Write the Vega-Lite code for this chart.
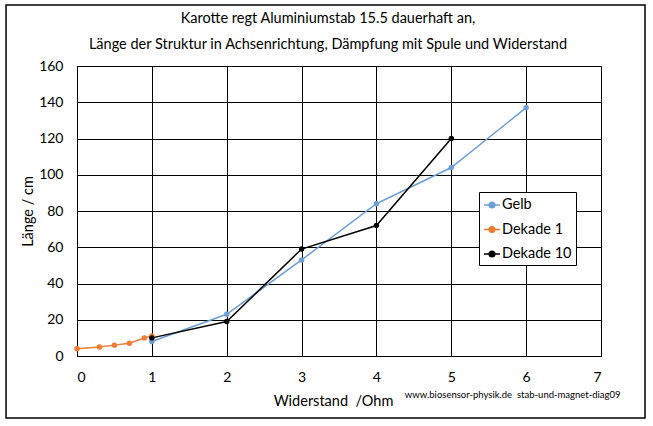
{
  "$schema": "https://vega.github.io/schema/vega-lite/v6.json",
  "width": 524,
  "height": 290,
  "autosize": {"type": "none"},
  "padding": {"left": 77, "top": 66, "right": 52, "bottom": 70},
  "background": "white",
  "title": {
    "text": ["Karotte regt Aluminiumstab 15.5 dauerhaft an,", "Länge der Struktur in Achsenrichtung, Dämpfung mit Spule und Widerstand"],
    "font": "Lato",
    "fontSize": 14.5,
    "fontWeight": "normal",
    "color": "#000000",
    "lineHeight": 26,
    "offset": -48,
    "dx": -11,
    "anchor": "middle"
  },
  "config": {
    "font": "Lato",
    "view": {"stroke": "#000000", "strokeWidth": 1},
    "axis": {
      "grid": true,
      "gridColor": "#000000",
      "gridOpacity": 1,
      "gridWidth": 1,
      "domainColor": "#000000",
      "ticks": false,
      "labelFont": "Lato",
      "labelFontSize": 14,
      "labelColor": "#000000",
      "titleFont": "Lato",
      "titleFontSize": 14.5,
      "titleFontWeight": "normal",
      "titleColor": "#000000"
    }
  },
  "data": {
    "values": [
      {"serie": "Gelb", "w": 1, "l": 8},
      {"serie": "Gelb", "w": 2, "l": 23},
      {"serie": "Gelb", "w": 3, "l": 53},
      {"serie": "Gelb", "w": 4, "l": 84},
      {"serie": "Gelb", "w": 5, "l": 104},
      {"serie": "Gelb", "w": 6, "l": 137},
      {"serie": "Dekade 1", "w": 0, "l": 4},
      {"serie": "Dekade 1", "w": 0.3, "l": 5},
      {"serie": "Dekade 1", "w": 0.5, "l": 6},
      {"serie": "Dekade 1", "w": 0.7, "l": 7},
      {"serie": "Dekade 1", "w": 0.9, "l": 10},
      {"serie": "Dekade 1", "w": 1, "l": 11},
      {"serie": "Dekade 10", "w": 1, "l": 10},
      {"serie": "Dekade 10", "w": 2, "l": 19},
      {"serie": "Dekade 10", "w": 3, "l": 59},
      {"serie": "Dekade 10", "w": 4, "l": 72},
      {"serie": "Dekade 10", "w": 5, "l": 120}
    ]
  },
  "layer": [
    {
      "mark": {"type": "line", "strokeWidth": 1.5},
      "encoding": {
        "x": {
          "field": "w", "type": "quantitative",
          "scale": {"domain": [0, 7], "nice": false, "zero": false},
          "axis": {"grid": true, "values": [0,1,2,3,4,5,6,7], "format": "d", "labelPadding": 14, "title": "Widerstand\u00a0\u00a0/Ohm", "titlePadding": 10, "titleX": 256}
        },
        "y": {
          "field": "l", "type": "quantitative",
          "scale": {"domain": [0, 160], "nice": false, "zero": false},
          "axis": {"grid": true, "values": [0,20,40,60,80,100,120,140,160], "format": "d", "labelPadding": 14, "title": "Länge / cm", "titlePadding": 3}
        },
        "color": {
          "field": "serie", "type": "nominal",
          "scale": {"domain": ["Gelb", "Dekade 1", "Dekade 10"], "range": ["#6E9ED6", "#ED7D31", "#000000"]},
          "legend": {
            "title": null,
            "orient": "none",
            "legendX": 402,
            "legendY": 126,
            "direction": "vertical",
            "strokeColor": "#000000",
            "fillColor": "#ffffff",
            "padding": 4,
            "rowPadding": 8.5,
            "labelFont": "Lato",
            "labelFontSize": 14.5,
            "labelColor": "#000000",
            "symbolType": "M-1,0H1M-0.35,0A0.35,0.35 0 1,1 0.35,0A0.35,0.35 0 1,1 -0.35,0Z",
            "symbolSize": 256,
            "symbolStrokeWidth": 1.5,
            "labelOffset": 1,
            "encode": {
              "symbols": {"update": {"fill": {"field": "value", "scale": "color"}, "stroke": {"field": "value", "scale": "color"}}}
            }
          }
        },
        "order": {"field": "w"}
      }
    },
    {
      "mark": {"type": "point", "filled": true, "size": 30, "opacity": 1},
      "encoding": {
        "x": {
          "field": "w", "type": "quantitative",
          "scale": {"domain": [0, 7], "nice": false, "zero": false},
          "axis": {"grid": true, "values": [0,1,2,3,4,5,6,7], "format": "d", "labelPadding": 14, "title": "Widerstand\u00a0\u00a0/Ohm", "titlePadding": 10, "titleX": 256}
        },
        "y": {
          "field": "l", "type": "quantitative",
          "scale": {"domain": [0, 160], "nice": false, "zero": false},
          "axis": {"grid": true, "values": [0,20,40,60,80,100,120,140,160], "format": "d", "labelPadding": 14, "title": "Länge / cm", "titlePadding": 3}
        },
        "color": {"field": "serie", "type": "nominal"}
      }
    },
    {
      "data": {"values": [{"t": "www.biosensor-physik.de\u00a0\u00a0stab-und-magnet-diag09"}]},
      "mark": {"type": "text", "align": "left", "baseline": "middle", "fontSize": 9.5, "font": "Lato", "fill": "#000000", "clip": false},
      "encoding": {
        "x": {
          "datum": 4.38, "type": "quantitative",
          "scale": {"domain": [0, 7], "nice": false, "zero": false},
          "axis": {"grid": true, "values": [0,1,2,3,4,5,6,7], "format": "d", "labelPadding": 14, "title": "Widerstand\u00a0\u00a0/Ohm", "titlePadding": 10, "titleX": 256}
        },
        "y": {
          "datum": -21.5, "type": "quantitative",
          "scale": {"domain": [0, 160], "nice": false, "zero": false},
          "axis": {"grid": true, "values": [0,20,40,60,80,100,120,140,160], "format": "d", "labelPadding": 14, "title": "Länge / cm", "titlePadding": 3}
        },
        "text": {"field": "t", "type": "nominal"}
      }
    },
    {
      "data": {"values": [{"frame": "chart"}]},
      "mark": {"type": "rect", "fill": null, "filled": false, "stroke": "#000000", "strokeWidth": 1.5, "clip": false},
      "encoding": {
        "x": {
          "datum": -0.948, "type": "quantitative",
          "scale": {"domain": [0, 7], "nice": false, "zero": false},
          "axis": {"grid": true, "values": [0,1,2,3,4,5,6,7], "format": "d", "labelPadding": 14, "title": "Widerstand\u00a0\u00a0/Ohm", "titlePadding": 10, "titleX": 256}
        },
        "x2": {"datum": 7.588},
        "y": {
          "datum": 193.7, "type": "quantitative",
          "scale": {"domain": [0, 160], "nice": false, "zero": false},
          "axis": {"grid": true, "values": [0,20,40,60,80,100,120,140,160], "format": "d", "labelPadding": 14, "title": "Länge / cm", "titlePadding": 3}
        },
        "y2": {"datum": -34.2}
      }
    }
  ]
}
